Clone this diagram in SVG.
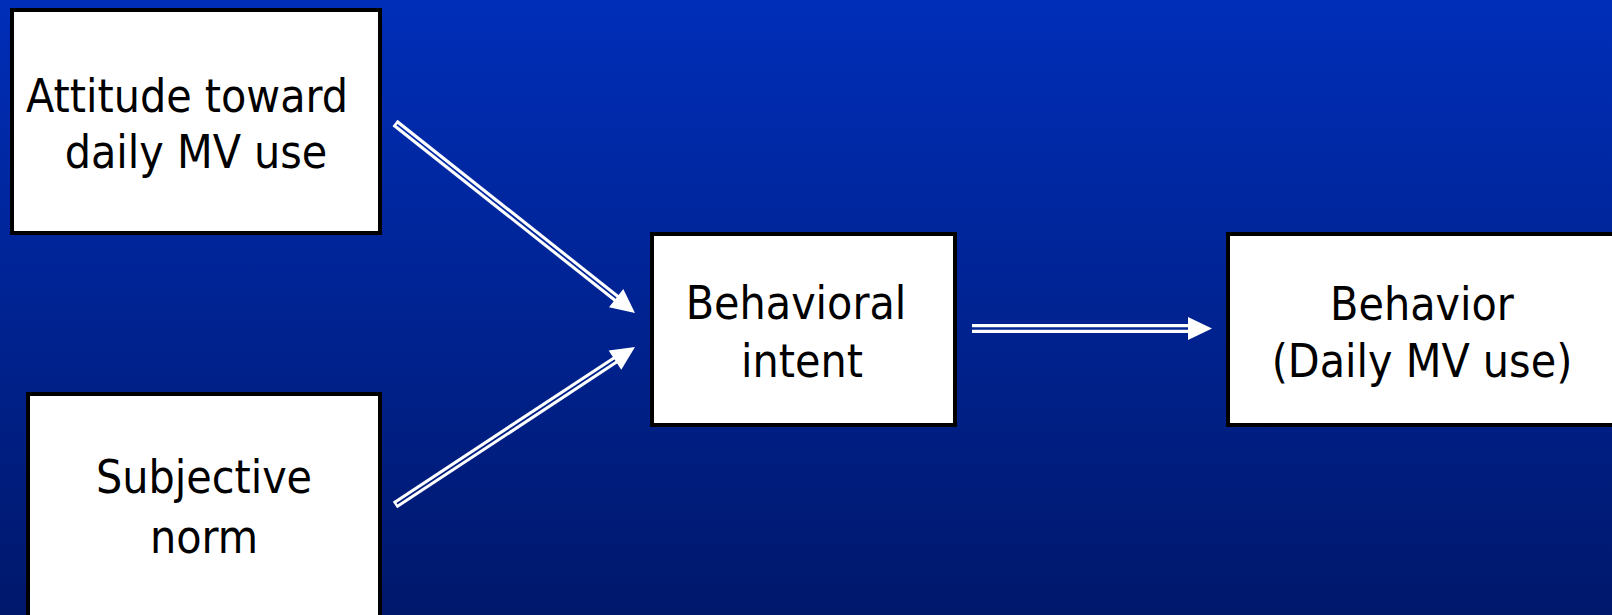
<svg xmlns="http://www.w3.org/2000/svg" width="1612" height="615" viewBox="0 0 1612 615">
  <defs>
    <linearGradient id="bg" gradientUnits="userSpaceOnUse" x1="0" y1="0" x2="0" y2="615">
      <stop offset="0" stop-color="#002eb8"/>
      <stop offset="1" stop-color="#00186c"/>
    </linearGradient>
    <marker id="head" markerUnits="userSpaceOnUse" markerWidth="24" markerHeight="23" refX="4" refY="11.5" orient="auto" overflow="visible">
      <path d="M0,0 L24,11.5 L0,23 Z" fill="#ffffff"/>
    </marker>
    <style>
      .box { fill: #ffffff; stroke: #000000; stroke-width: 4; }
      .label { font-family: "DejaVu Sans Condensed", "DejaVu Sans", sans-serif; font-stretch: condensed; font-size: 46px; fill: #000000; text-anchor: middle; }
      .rail { fill: none; stroke: #ffffff; stroke-width: 8; }
      .gap { fill: none; stroke: url(#bg); stroke-width: 1.8; }
      .rail-h { stroke-width: 9; }
      .gap-h { stroke-width: 2.4; }
    </style>
  </defs>

  <rect x="0" y="0" width="1612" height="615" fill="url(#bg)"/>

  <g id="connectors">
    <!-- attitude -> intent -->
    <path class="rail" d="M395,123 L619.3,300.6"/>
    <path class="gap" d="M397,124.6 L619.3,300.6" marker-end="url(#head)"/>
    <!-- norm -> intent -->
    <path class="rail" d="M395,505 L618.3,358"/>
    <path class="gap" d="M397,503.7 L618.3,358" marker-end="url(#head)"/>
    <!-- intent -> behavior -->
    <path class="rail rail-h" d="M972,328.5 L1192,328.5"/>
    <path class="gap gap-h" d="M972,328.5 L1192,328.5" marker-end="url(#head)"/>
  </g>

  <g id="attitude">
    <rect class="box" x="12" y="10" width="368" height="223"/>
    <text class="label" x="187" y="112">Attitude toward</text>
    <text class="label" x="196" y="168">daily MV use</text>
  </g>

  <g id="subjective-norm">
    <rect class="box" x="28" y="394" width="352" height="260"/>
    <text class="label" x="204" y="493">Subjective</text>
    <text class="label" x="204" y="553">norm</text>
  </g>

  <g id="behavioral-intent">
    <rect class="box" x="652" y="234" width="303" height="191"/>
    <text class="label" x="796" y="319">Behavioral</text>
    <text class="label" x="802" y="377">intent</text>
  </g>

  <g id="behavior">
    <rect class="box" x="1228" y="234" width="420" height="191"/>
    <text class="label" x="1422" y="320">Behavior</text>
    <text class="label" x="1422" y="377">(Daily MV use)</text>
  </g>
</svg>
